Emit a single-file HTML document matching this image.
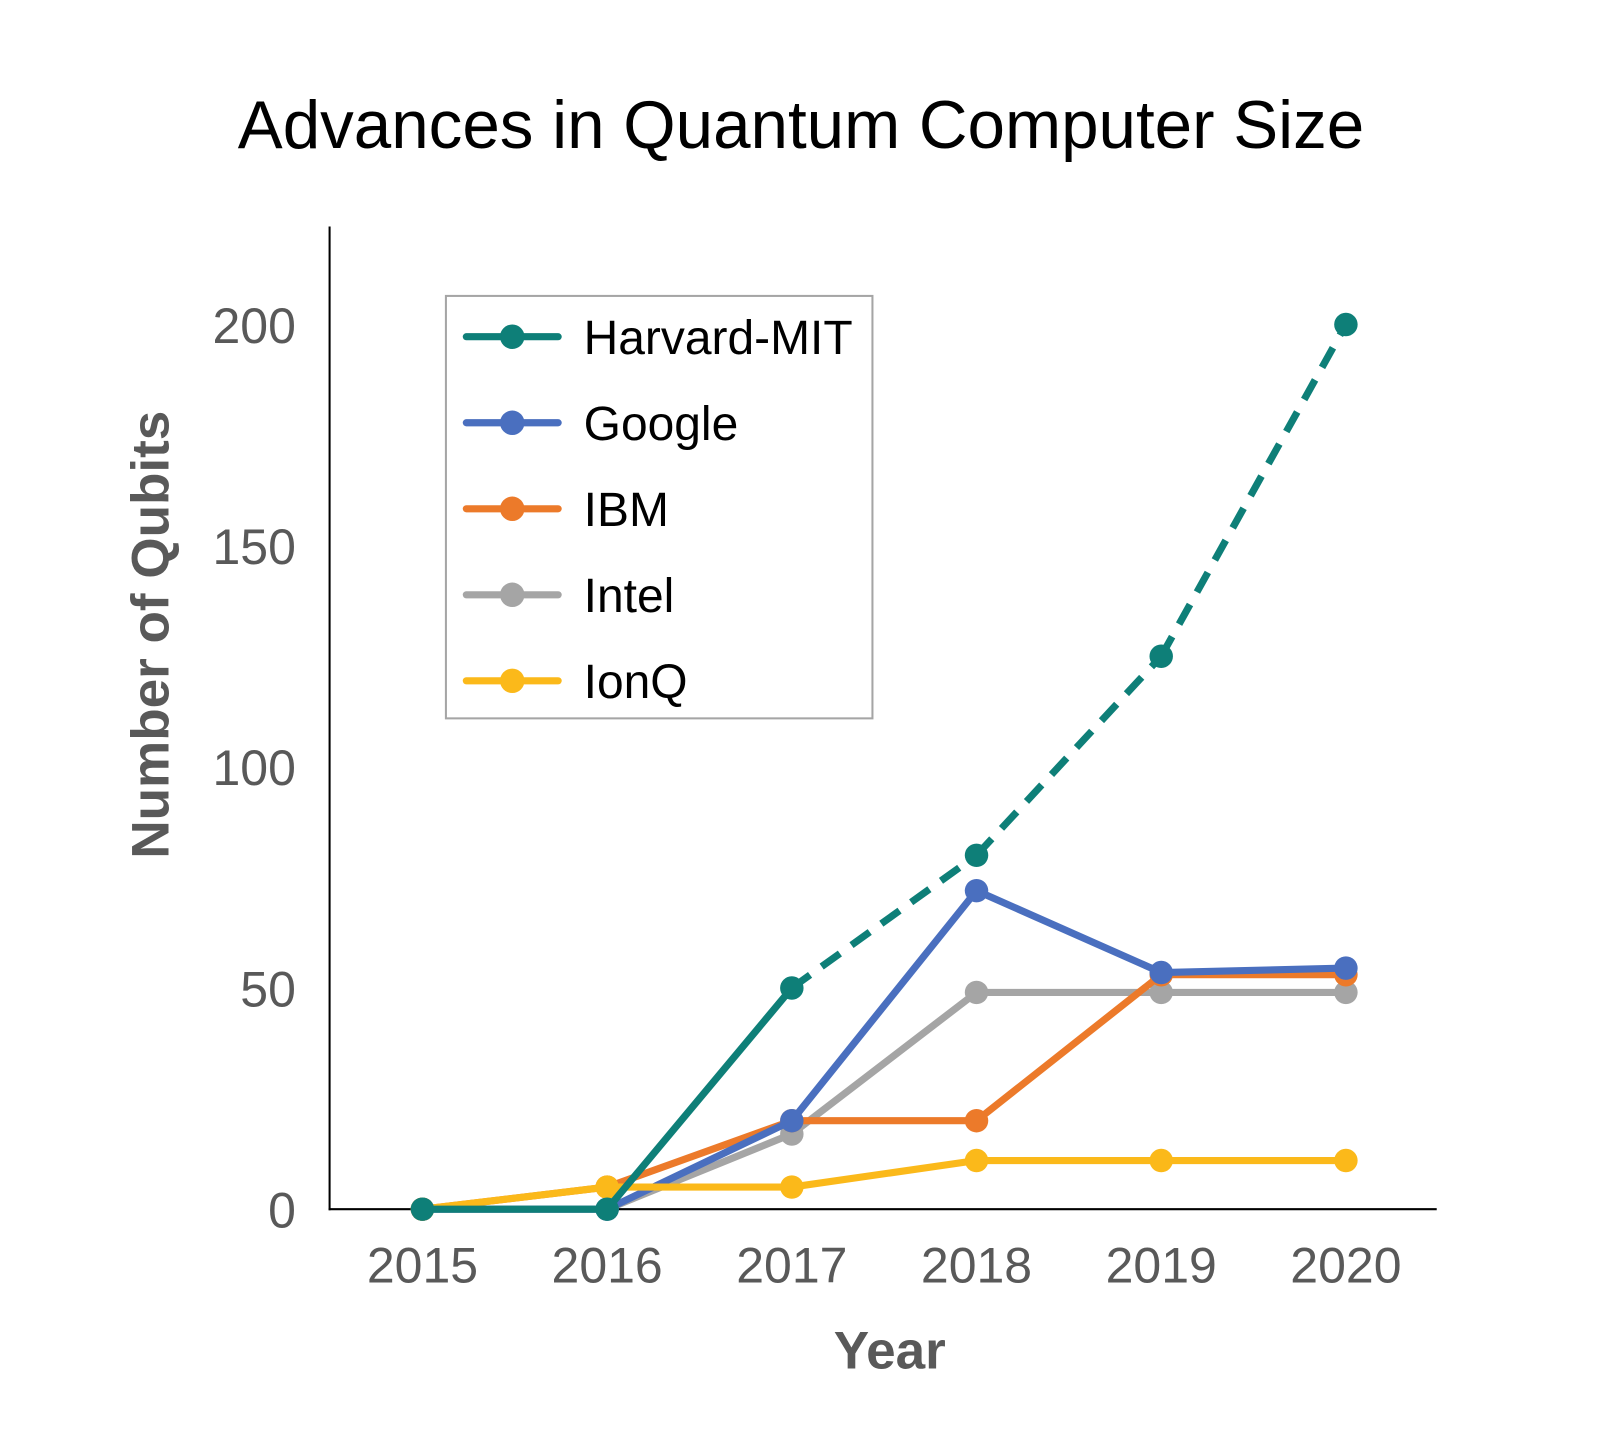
<!DOCTYPE html>
<html><head><meta charset="utf-8"><style>
html,body{margin:0;padding:0;background:#fff;}
svg text{font-family:"Liberation Sans",sans-serif;}
</style></head><body>
<svg id="chart" width="1600" height="1439" viewBox="0 0 1600 1439" xmlns="http://www.w3.org/2000/svg">
<rect width="1600" height="1439" fill="#fff"/>
<g transform="scale(1.0204)">
<text x="785" y="145" font-size="66" text-anchor="middle" fill="#000">Advances in Quantum Computer Size</text>
<g id="axes"></g>
<g id="series"></g>
<g id="legend"></g>
<text x="872" y="1341" font-size="52" font-weight="bold" text-anchor="middle" fill="#595959">Year</text>
<text transform="translate(165,622) rotate(-90)" font-size="52" font-weight="bold" text-anchor="middle" fill="#595959">Number of Qubits</text>
</g>
</svg>
<script>
const years = [2015, 2016, 2017, 2018, 2019, 2020];
const yTicks = [0, 50, 100, 150, 200];
const harvard = [0, 0, 50, 80, 125, 200];
const google = [0, 0, 20, 72, 53.5, 54.5];
const ibm = [0, 5, 20, 20, 53, 53];
const intel = [0, 0, 17, 49, 49, 49];
const ionq = [0, 5, 5, 11, 11, 11];
const seriesNames = ["Harvard-MIT", "Google", "IBM", "Intel", "IonQ"];

const NS = "http://www.w3.org/2000/svg";
const x = i => 414 + i * 181;
const y = v => 1185 - v * (867 / 200);
function mk(tag, attrs, parent){const e=document.createElementNS(NS,tag);for(const k in attrs)e.setAttribute(k,attrs[k]);parent.appendChild(e);return e;}
const axes=document.getElementById('axes');
let l=mk('line',{x1:323,y1:222,x2:323,y2:1186,stroke:'#000','stroke-width':2},axes);


l=mk('line',{x1:322,y1:1185,x2:1408,y2:1185,stroke:'#000','stroke-width':2},axes);


yTicks.forEach(t=>{const e=mk('text',{x:290,y:y(t)+18,'font-size':49,'text-anchor':'end',fill:'#595959'},axes);e.textContent=t;

});
years.forEach((yr,i)=>{const e=mk('text',{x:x(i),y:1257,'font-size':49,'text-anchor':'middle',fill:'#595959'},axes);e.textContent=yr;

});

const sg=document.getElementById('series');
function drawSeries(vals,color,name,dashFrom){
  const g=mk('g',{},sg);
  
  
  for(let i=0;i<vals.length-1;i++){
    const a={x1:x(i),y1:y(vals[i]),x2:x(i+1),y2:y(vals[i+1]),stroke:color,'stroke-width':7,'stroke-linecap':'round'};
    if(dashFrom!==undefined && i>=dashFrom){a['stroke-dasharray']='22 14';a['stroke-linecap']='butt';}
    mk('line',a,g);
  }
  vals.forEach((v,i)=>{const c=mk('circle',{cx:x(i),cy:y(v),r:11.5,fill:color},g);
  
  });
}
drawSeries(intel,'#a5a5a5','intel');
drawSeries(ibm,'#ec7a2a','ibm');
drawSeries(google,'#4a6fbf','google');
drawSeries(ionq,'#fbb91a','ionq');
drawSeries(harvard,'#0e7f78','harvard-mit',2);

const lg=document.getElementById('legend');
const box=mk('rect',{x:437,y:290,width:418,height:414,fill:'#fff',stroke:'#a5a5a5','stroke-width':2},lg);


const lcolors=['#0e7f78','#4a6fbf','#ec7a2a','#a5a5a5','#fbb91a'];
seriesNames.forEach((n,i)=>{
  const cy=330+i*84.3;
  const g=mk('g',{},lg);
  
  
  mk('line',{x1:457,y1:cy,x2:547,y2:cy,stroke:lcolors[i],'stroke-width':7,'stroke-linecap':'round'},g);
  mk('circle',{cx:502,cy:cy,r:12,fill:lcolors[i]},g);
  const t=mk('text',{x:572,y:cy+17,'font-size':47,fill:'#000'},g);t.textContent=n;
});
</script>
</body></html>
